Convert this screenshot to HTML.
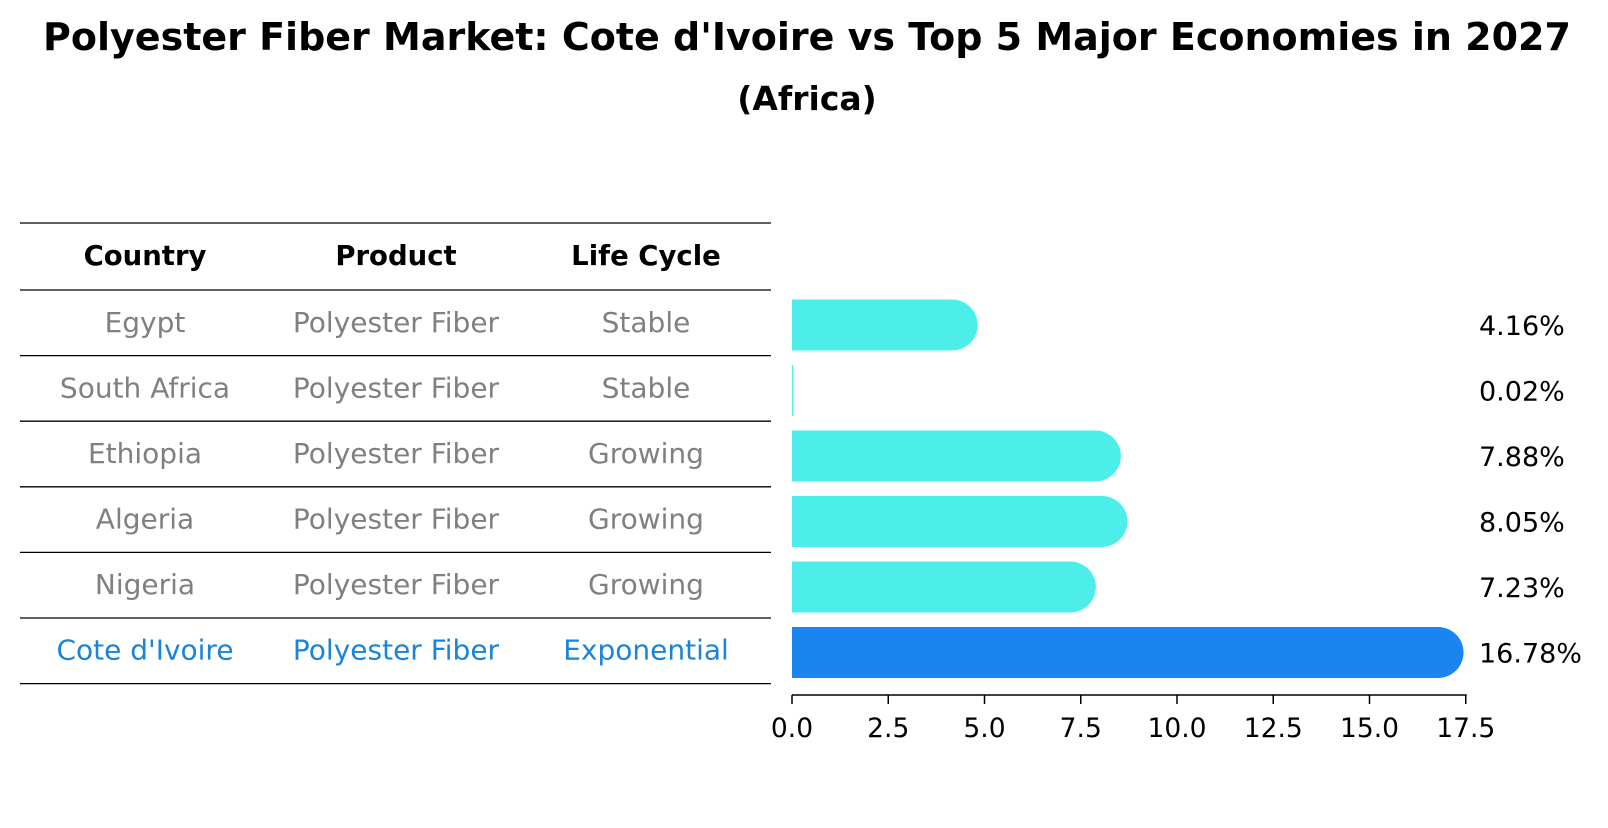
<!DOCTYPE html>
<html><head><meta charset="utf-8"><style>
body{margin:0;background:#fff;font-family:"Liberation Sans","DejaVu Sans",sans-serif}
svg text{font-family:"DejaVu Sans","Liberation Sans",sans-serif}
</style></head><body>
<svg width="1608" height="823" xmlns="http://www.w3.org/2000/svg">
<text x="807" y="50" text-anchor="middle" font-size="38" font-weight="bold">Polyester Fiber Market: Cote d'Ivoire vs Top 5 Major Economies in 2027</text>
<text x="807" y="110" text-anchor="middle" font-size="33" font-weight="bold">(Africa)</text>
<g id="table"></g>
<g id="bars"></g>
<g id="axis"></g>
</svg>
<script>
const countries=["Egypt","South Africa","Ethiopia","Algeria","Nigeria","Cote d'Ivoire"];
const products=["Polyester Fiber","Polyester Fiber","Polyester Fiber","Polyester Fiber","Polyester Fiber","Polyester Fiber"];
const lifeCycles=["Stable","Stable","Growing","Growing","Growing","Exponential"];
const values=[4.16,0.02,7.88,8.05,7.23,16.78];
const valueLabels=["4.16%","0.02%","7.88%","8.05%","7.23%","16.78%"];
const ticks=[0,2.5,5,7.5,10,12.5,15,17.5];
const tickLabels=["0.0","2.5","5.0","7.5","10.0","12.5","15.0","17.5"];
const NS="http://www.w3.org/2000/svg";
const x0=792,pxPerUnit=38.5;
const xs=v=>x0+v*pxPerUnit;
const rowY=i=>322+i*65.5;
function mk(tag,attrs,parent,txt){const e=document.createElementNS(NS,tag);for(const k in attrs)e.setAttribute(k,attrs[k]);if(txt!==undefined)e.textContent=txt;parent.appendChild(e);return e;}
const table=document.getElementById('table');
const lineYs=[223,290];
for(let i=0;i<=countries.length;i++)lineYs.push(290+65.6*(i+1));
lineYs.slice(0,countries.length+2).forEach((y,i)=>{
 const l=mk('line',{x1:20,x2:771,y1:y,y2:y,stroke:'#000','stroke-width':1.3},table);
 
 
});
const cols=[145,396,646];
["Country","Product","Life Cycle"].forEach((h,j)=>{
 const t=mk('text',{x:cols[j],y:265,'text-anchor':'middle','font-size':27.5,'font-weight':'bold'},table,h);
 
 
});
countries.forEach((c,i)=>{
 const hl=i===countries.length-1;
 const fill=hl?'#1a84d8':'#808080';
 [c,products[i],lifeCycles[i]].forEach((s,j)=>{
  const t=mk('text',{x:cols[j],y:rowY(i)+10,'text-anchor':'middle','font-size':28,fill:fill},table,s);
  
  
 });
});
const bars=document.getElementById('bars');
const h=51,r=25.5;
values.forEach((v,i)=>{
 const hl=i===values.length-1;
 const cy=rowY(i)+3;
 const xe=xs(v);
 const col=hl?'#1a84f0':'#4deeea';
 let d;
 if(v*pxPerUnit<1.5){d=`M${x0},${cy-h/2}h1.2v${h}h-1.2z`;}
 else d=`M${x0},${cy-h/2}H${xe}A${r},${h/2} 0 0 1 ${xe},${cy+h/2}H${x0}Z`;
 const p=mk('path',{d:d,fill:col},bars);
 
 
 const t=mk('text',{x:1479,y:cy+10,'font-size':27},bars,valueLabels[i]);
 
 
});
const axis=document.getElementById('axis');
const ay=695;
const al=mk('line',{x1:x0,x2:xs(17.5)+1,y1:ay,y2:ay,stroke:'#000','stroke-width':1.6},axis);


ticks.forEach((t,i)=>{
 const l=mk('line',{x1:xs(t),x2:xs(t),y1:ay,y2:ay+9,stroke:'#000','stroke-width':1.5},axis);
 
 
 const tx=mk('text',{x:xs(t),y:ay+42,'text-anchor':'middle','font-size':26.5},axis,tickLabels[i]);
 
 
});
</script>
</body></html>
